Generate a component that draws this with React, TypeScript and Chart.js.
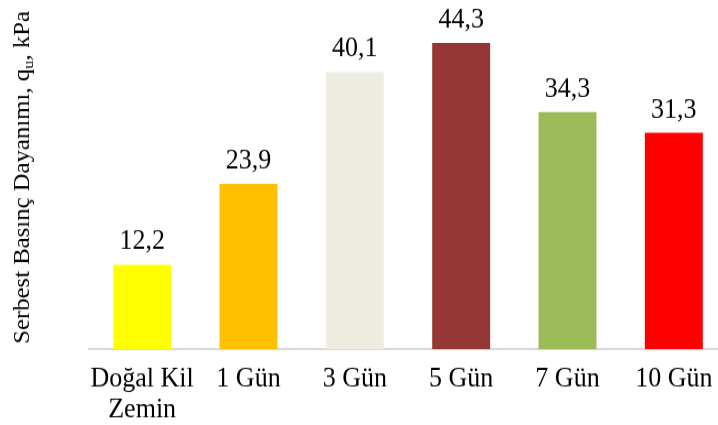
import React, { useEffect, useRef } from "react";
import { Chart, registerables } from "chart.js";

Chart.register(...registerables);

const categories: (string | string[])[] = [["Doğal Kil", "Zemin"], "1 Gün", "3 Gün", "5 Gün", "7 Gün", "10 Gün"];
const strengthValues: number[] = [12.2, 23.9, 40.1, 44.3, 34.3, 31.3];
const barColors: string[] = ["#FFFF00", "#FFC000", "#EEECE1", "#953735", "#9BBB59", "#FF0000"];

const FONT = "'Liberation Serif', 'Times New Roman', serif";

// Canvas backing size; it is shown a little taller than it is drawn,
// which gives the text its tall, narrow look.
const CANVAS_W = 730;
const CANVAS_H = 386;
const SHOWN_H = 425;

// Writes each bar's value (decimal comma) just above the bar.
const valueLabels = {
  id: "valueLabels",
  afterDatasetsDraw(chart: any) {
    const ctx = chart.ctx;
    const meta = chart.getDatasetMeta(0);
    ctx.save();
    ctx.font = `26px ${FONT}`;
    ctx.fillStyle = "#000";
    ctx.textAlign = "center";
    ctx.textBaseline = "alphabetic";
    meta.data.forEach((bar: any, i: number) => {
      const text = strengthValues[i].toFixed(1).replace(".", ",");
      ctx.fillText(text, bar.x, bar.y - 14);
    });
    ctx.restore();
  },
};

// Vertical axis title with a subscript "u".
const yTitle = {
  id: "yTitle",
  afterDraw(chart: any) {
    const ctx = chart.ctx;
    const area = chart.chartArea;
    const main = "Serbest Basınç Dayanımı, q";
    const sub = "u";
    const tail = ", kPa";
    ctx.save();
    const mainFont = `22.5px ${FONT}`;
    const subFont = `15px ${FONT}`;
    ctx.font = mainFont;
    const w1 = ctx.measureText(main).width;
    const w3 = ctx.measureText(tail).width;
    ctx.font = subFont;
    const w2 = ctx.measureText(sub).width;
    const total = w1 + w2 + w3;
    const cy = (area.top + area.bottom) / 2 + 1;
    ctx.translate(28.5, cy);
    ctx.rotate(-Math.PI / 2);
    ctx.fillStyle = "#000";
    ctx.textBaseline = "alphabetic";
    ctx.textAlign = "left";
    let x = -total / 2;
    ctx.font = mainFont;
    ctx.fillText(main, x, 0);
    x += w1;
    ctx.font = subFont;
    ctx.fillText(sub, x, 4);
    x += w2;
    ctx.font = mainFont;
    ctx.fillText(tail, x, 0);
    ctx.restore();
  },
};

export default function App() {
  const canvasRef = useRef<HTMLCanvasElement | null>(null);

  useEffect(() => {
    if (!canvasRef.current) return;
    const chart = new Chart(canvasRef.current, {
      type: "bar",
      data: {
        labels: categories,
        datasets: [
          {
            data: strengthValues,
            backgroundColor: barColors,
            borderWidth: 0,
            categoryPercentage: 1,
            barPercentage: 0.545,
          },
        ],
      },
      options: {
        responsive: false,
        animation: false,
        devicePixelRatio: 1,
        layout: { padding: { left: 89, right: 3, top: 3.27, bottom: 0 } },
        plugins: {
          legend: { display: false },
          tooltip: { enabled: false },
          title: { display: false },
        },
        scales: {
          x: {
            grid: { display: false, drawTicks: false, tickLength: 0 },
            border: { display: true, color: "#D9D9D9", width: 2 },
            ticks: {
              color: "#000",
              padding: 14,
              maxRotation: 0,
              autoSkip: false,
              font: { family: FONT, size: 26, lineHeight: 1.05 },
            },
            afterFit: (axis: any) => {
              axis.height = 69;
            },
          },
          y: {
            display: false,
            min: 0,
            max: 50,
          },
        },
      },
      plugins: [valueLabels, yTitle],
    });
    return () => chart.destroy();
  }, []);

  return (
    <div style={{ position: "fixed", left: 0, top: 0, width: 718, height: 425, overflow: "hidden", background: "#fff" }}>
      <canvas
        ref={canvasRef}
        width={CANVAS_W}
        height={CANVAS_H}
        style={{ display: "block", width: `${CANVAS_W}px`, height: `${SHOWN_H}px` }}
      />
    </div>
  );
}
